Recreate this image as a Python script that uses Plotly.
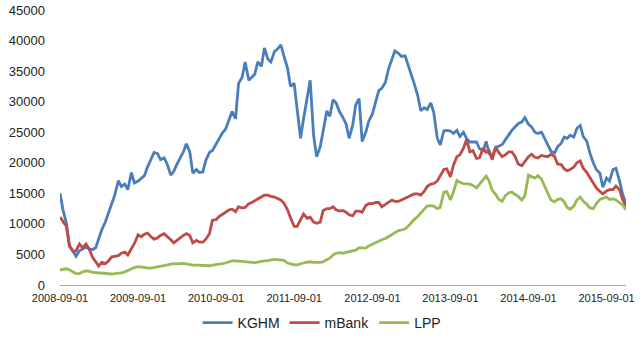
import pandas as pd
import plotly.graph_objects as go

# semi-monthly observation dates (1st and 15th), 2008-09-01 .. 2015-12-01
N_POINTS = 175
dates = pd.date_range("2008-09-01", periods=N_POINTS, freq="SMS")

kghm = [
    15000, 12300, 10100, 6300, 5500, 4700, 5600, 5900, 6200, 5900,
    5800, 6100, 7500, 9000, 10300, 11800, 13400, 14700, 17100, 16100,
    16500, 15600, 18400, 16700, 17000, 17400, 17900, 19300, 20500, 21700,
    21500, 20500, 20800, 19800, 18000, 18600, 19700, 20600, 21800, 23100,
    21800, 18300, 18900, 18400, 18500, 20400, 21700, 22000, 23000, 24000,
    24900, 25500, 27300, 28400, 27200, 33000, 34000, 36500, 33500, 34000,
    34500, 36500, 35800, 38800, 37000, 36500, 38200, 38600, 39300, 37500,
    35500, 32500, 33000, 28800, 24000, 27200, 31000, 33500, 24500, 21000,
    22600, 25200, 28500, 27600, 30300, 29800, 28300, 27500, 26300, 24000,
    26200, 29500, 30500, 23500, 25000, 26800, 28000, 29800, 31800, 32200,
    33200, 35300, 37000, 38300, 37900, 37400, 37500, 36000, 34800, 33000,
    31000, 28500, 29000, 28700, 29800, 28200, 24100, 22900, 25200, 25300,
    25200, 24800, 25300, 24300, 25000, 24000, 23400, 23400, 23400, 22300,
    22000, 23500, 21500, 21000, 22600, 22700, 23000, 23700, 24600, 25300,
    25900, 26400, 26700, 27400, 26300, 25900, 25000, 24800, 25000, 24000,
    23000, 21900, 21600, 22600, 23200, 24200, 24000, 24500, 24200, 25600,
    26100, 24300, 23500, 21600, 20000, 18900, 18300, 16000, 17500, 17000,
    18900, 19100, 17000, 14900, 13300,
]

mbank = [
    11100, 10300, 9600, 6500, 5500, 5600, 6700, 6100, 6700, 5900,
    4500, 3800, 3100, 3700, 3500, 3900, 4600, 4700, 4800, 5200,
    5400, 4900, 5900, 6800, 8200, 7900, 8300, 8500, 7900, 7500,
    7700, 8100, 8400, 8000, 7400, 6900, 7300, 7700, 8100, 8400,
    8100, 6900, 7300, 7000, 7000, 7500, 8400, 10600, 10700, 11200,
    11600, 11900, 12300, 12400, 12000, 12800, 12600, 12700, 13300, 13500,
    13800, 14100, 14500, 14700, 14700, 14500, 14400, 14200, 13900, 13400,
    12300, 11000, 9600, 9600, 10600, 11600, 10900, 11100, 10300, 10100,
    10300, 12200, 12500, 12500, 12800, 12300, 12100, 12200, 11900, 11500,
    11300, 12100, 12100, 11900, 13000, 13300, 13300, 13500, 13500, 12800,
    13200, 13500, 13900, 13700, 13700, 13900, 14200, 14500, 14700, 14900,
    14900, 14700, 15300, 16100, 16500, 16600, 17000, 17800, 18900, 19000,
    17700, 19600, 21000, 21300, 22400, 23800, 21800, 22000, 20700, 20800,
    22400, 21700, 22000, 20500, 22500, 21700, 21000, 21300, 21800, 21800,
    21000, 19800, 19500, 20200, 21000, 21400, 20900, 20800, 21200, 21100,
    21000, 21400, 21000, 19800, 19700, 19000, 18700, 18900, 19300, 20000,
    20300, 19100, 18400, 17600, 16600, 15900, 15300, 14900, 15400, 15600,
    15600, 16200, 15600, 14000, 12900,
]

lpp = [
    2450, 2600, 2650, 2500, 2150, 1850, 1850, 2150, 2300, 2250,
    2050, 2000, 2000, 1900, 1800, 1800, 1800, 1850, 1900, 2000,
    2150, 2400, 2700, 2850, 3000, 2900, 2850, 2800, 2750, 2850,
    3000, 3100, 3200, 3350, 3500, 3500, 3450, 3500, 3550, 3450,
    3300, 3250, 3250, 3200, 3150, 3100, 3150, 3250, 3300, 3400,
    3500, 3600, 3800, 3950, 3950, 3900, 3850, 3800, 3750, 3700,
    3650, 3750, 3900, 3950, 4000, 4100, 4200, 4150, 4100, 4050,
    3600, 3450, 3300, 3300, 3500, 3600, 3750, 3800, 3700, 3650,
    3700, 3800, 4100, 4400, 4900, 5200, 5300, 5200, 5350, 5450,
    5600, 5700, 6100, 6100, 6050, 6400, 6700, 7000, 7200, 7400,
    7600, 7900, 8200, 8600, 8900, 9000, 9200, 9600, 10200, 10700,
    11200, 11700, 12300, 12900, 13000, 12900, 12500, 12700, 15200, 15300,
    13900, 15200, 17100, 16800, 16600, 16600, 16500, 16300, 15900, 16500,
    17300, 17800, 17000, 15500, 14800, 14000, 13700, 14600, 15100, 15200,
    14800, 14500, 13900, 14600, 18000, 17800, 17500, 17900, 17300, 16200,
    15000, 13900, 13600, 14000, 14100, 13600, 12700, 12400, 12900, 13900,
    14400, 13700, 13200, 12600, 12500, 13300, 14000, 14200, 14400, 14000,
    14100, 13900, 13400, 13100, 12300,
]

x_tick_labels = ["2008-09-01", "2009-09-01", "2010-09-01", "2011-09-01",
                 "2012-09-01", "2013-09-01", "2014-09-01", "2015-09-01"]
y_tick_values = [0, 5000, 10000, 15000, 20000, 25000, 30000, 35000, 40000, 45000]

series = [
    ("KGHM", kghm, "#4A7EBB"),
    ("mBank", mbank, "#BE4B48"),
    ("LPP", lpp, "#98B954"),
]

fig = go.Figure()
for name, vals, color in series:
    fig.add_trace(go.Scatter(
        x=dates, y=vals, name=name, mode="lines",
        line=dict(color=color, width=2.8),
    ))

fig.update_layout(
    width=640, height=355,
    margin=dict(l=60, r=14, t=10, b=70, autoexpand=False),
    paper_bgcolor="white", plot_bgcolor="white",
    font=dict(family="Liberation Sans, Arial, sans-serif", color="#222222"),
    showlegend=True,
    legend=dict(
        orientation="h", x=0.463, xanchor="center", y=-0.138, yanchor="middle",
        font=dict(size=14, color="#222222"),
        itemwidth=30, tracegroupgap=0,
    ),
    xaxis=dict(
        type="date",
        range=[dates[0], dates[-1]],
        tickvals=list(pd.to_datetime(x_tick_labels)),
        ticktext=x_tick_labels,
        tickfont=dict(size=11),
        showgrid=False, zeroline=False,
        showline=True, linecolor="#A6A6A6", linewidth=1.3,
        ticks="", ticklabelstandoff=3, automargin=False,
    ),
    yaxis=dict(
        range=[0, 45000],
        tickvals=y_tick_values,
        ticktext=[str(v) for v in y_tick_values],
        tickfont=dict(size=13),
        showgrid=False, zeroline=False, showline=False,
        ticks="", ticklabelstandoff=14, automargin=False,
    ),
)

fig.write_html(
    "out.html",
    config={"displayModeBar": False},
    post_script="document.body.style.margin='0px';document.body.style.padding='0px';",
)
